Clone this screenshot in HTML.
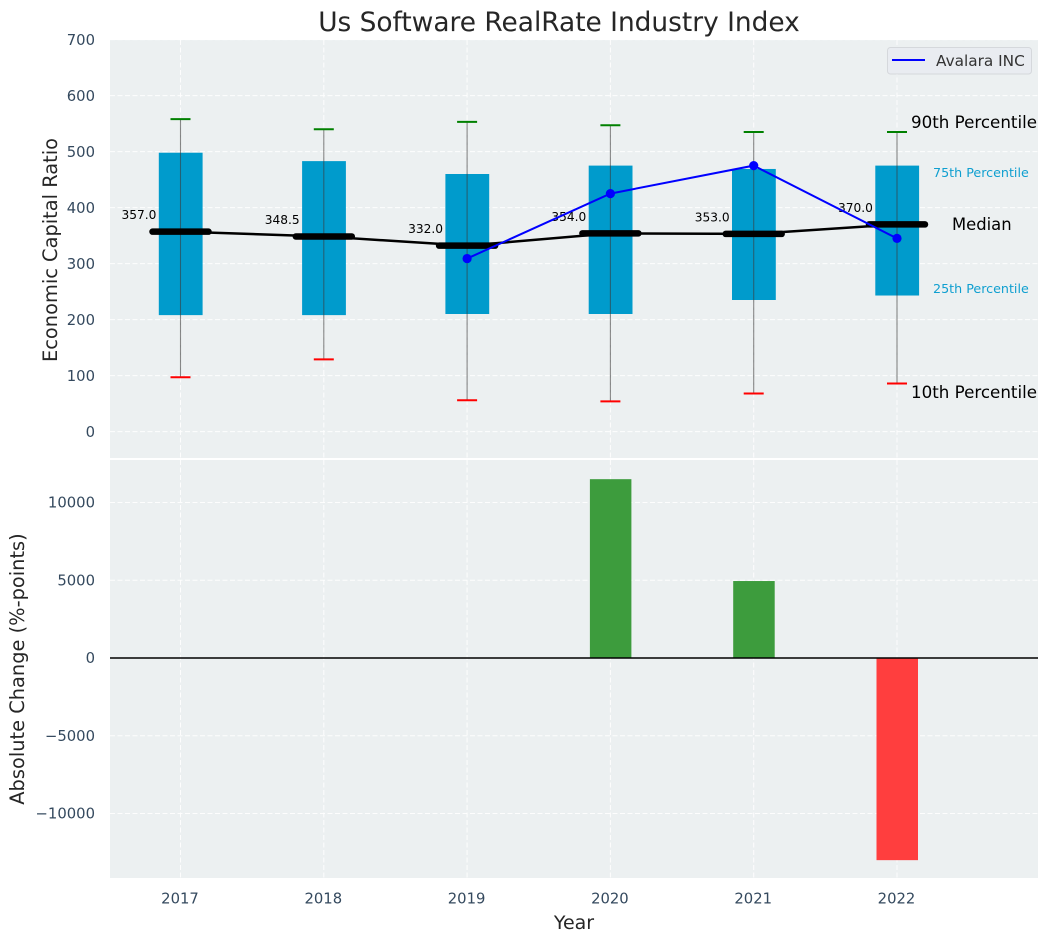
<!DOCTYPE html>
<html lang="en">
<head>
<meta charset="utf-8">
<title>Us Software RealRate Industry Index</title>
<style>
html,body{margin:0;padding:0;background:#fff;}
svg{display:block;font-family:"DejaVu Sans","Liberation Sans",sans-serif;}
</style>
</head>
<body>
<svg id="chart" xmlns="http://www.w3.org/2000/svg" width="1048" height="942" viewBox="0 0 1048 942">
  <rect x="110" y="40" width="928" height="418" fill="#ecf0f1"/>
  <rect x="110" y="460" width="928" height="418" fill="#ecf0f1"/>
  <g id="grid"></g>
  <g id="bars"></g>
  <g id="boxes"></g>
  <g id="series"></g>
  <g id="ticks"></g>
  <text x="559" y="31" font-size="26.4" text-anchor="middle" fill="#262626">Us Software RealRate Industry Index</text>
  <text transform="translate(57 250) rotate(-90)" font-size="19.4" text-anchor="middle" fill="#262626">Economic Capital Ratio</text>
  <text transform="translate(24 669) rotate(-90)" font-size="19.4" text-anchor="middle" fill="#262626">Absolute Change (%-points)</text>
  <text x="574" y="929" font-size="19" text-anchor="middle" fill="#262626">Year</text>
  <text x="911" y="128" font-size="16.7" fill="#000">90th Percentile</text>
  <text x="933" y="177" font-size="12.7" fill="#0f9fd0">75th Percentile</text>
  <text x="952" y="230" font-size="16.4" fill="#000">Median</text>
  <text x="933" y="293" font-size="12.7" fill="#0f9fd0">25th Percentile</text>
  <text x="911" y="398" font-size="16.7" fill="#000">10th Percentile</text>
  <g>
    <rect x="887.5" y="47.5" width="144" height="26.5" rx="3" fill="#e9ecf1" stroke="#d5d8dc"/>
    <line x1="892" y1="60" x2="925" y2="60" stroke="#0000ff" stroke-width="2"/>
    <text x="936" y="66" font-size="15.3" fill="#333">Avalara INC</text>
  </g>
</svg>
<script>
const years = [2017, 2018, 2019, 2020, 2021, 2022];
const p10 = [97, 129, 56, 54, 68, 86];
const p25 = [208, 208, 210, 210, 235, 243];
const medians = [357.0, 348.5, 332.0, 354.0, 353.0, 370.0];
const p75 = [498, 483, 460, 475, 469, 475];
const p90 = [558, 540, 553, 547, 535, 535];
const avalara = [null, null, 309, 425, 475, 345];
const changes = [0, 0, 0, 11500, 4950, -13000];
const topTicks = [0, 100, 200, 300, 400, 500, 600, 700];
const bottomTicks = [-10000, -5000, 0, 5000, 10000];

const NS = 'http://www.w3.org/2000/svg';
function xPos(year) { return 180.5 + (year - 2017) * 143.3; }
function yTop(v) { return 431.6 - v * 0.56; }
function yBottom(v) { return 658 - v * 0.01555; }
function mk(parent, tag, attrs, text) {
  const el = document.createElementNS(NS, tag);
  for (const k in attrs) el.setAttribute(k, attrs[k]);
  if (text !== undefined) el.textContent = text;
  parent.appendChild(el);
  return el;
}
const gGrid = document.getElementById('grid');
const gBars = document.getElementById('bars');
const gBoxes = document.getElementById('boxes');
const gSeries = document.getElementById('series');
const gTicks = document.getElementById('ticks');
const gridStyle = { stroke: '#ffffff', 'stroke-width': 1, 'stroke-dasharray': '5 2.5', opacity: 0.9 };

topTicks.forEach(function (t) {
  const y = yTop(t);
  const line = mk(gGrid, 'line', Object.assign({ x1: 110, x2: 1038, y1: y, y2: y }, gridStyle));
  
  
  const label = mk(gTicks, 'text', { x: 95, y: y + 5.2, 'text-anchor': 'end', 'font-size': 14.8, fill: '#34495e' }, String(t));
  
  
});
bottomTicks.forEach(function (t) {
  const y = yBottom(t);
  const line = mk(gGrid, 'line', Object.assign({ x1: 110, x2: 1038, y1: y, y2: y }, gridStyle));
  
  
  const txt = t < 0 ? '\u2212' + Math.abs(t) : String(t);
  const label = mk(gTicks, 'text', { x: 95, y: y + 5.2, 'text-anchor': 'end', 'font-size': 14.8, fill: '#34495e' }, txt);
  
  
});
years.forEach(function (yr) {
  const x = xPos(yr);
  const l1 = mk(gGrid, 'line', Object.assign({ x1: x, x2: x, y1: 40, y2: 458 }, gridStyle));
  
  
  const l2 = mk(gGrid, 'line', Object.assign({ x1: x, x2: x, y1: 460, y2: 878 }, gridStyle));
  
  
  const label = mk(gTicks, 'text', { x: x - 0.5, y: 903.5, 'text-anchor': 'middle', 'font-size': 14.8, fill: '#34495e' }, String(yr));
  
  
});

changes.forEach(function (c, i) {
  if (!c) return;
  const x = xPos(years[i]);
  const y0 = yBottom(0), y1 = yBottom(c);
  const bar = mk(gBars, 'rect', {
    x: x - 20.5, y: Math.min(y0, y1), width: 41.5, height: Math.abs(y1 - y0),
    fill: c > 0 ? '#3d9c3d' : '#ff3e3e'
  });
  
  
});
const zero = mk(gBars, 'line', { x1: 110, x2: 1038, y1: yBottom(0), y2: yBottom(0), stroke: '#000', 'stroke-width': 1.6 });



years.forEach(function (yr, i) {
  const x = xPos(yr);
  const box = mk(gBoxes, 'rect', {
    x: x - 21.7, y: yTop(p75[i]), width: 43.8, height: yTop(p25[i]) - yTop(p75[i]), fill: '#009bcc'
  });
  
  
  const whisker = mk(gBoxes, 'line', {
    x1: x, x2: x, y1: yTop(p90[i]), y2: yTop(p10[i]), stroke: '#3a3a3a', 'stroke-opacity': 0.6, 'stroke-width': 1.1
  });
  
  
  const capHi = mk(gBoxes, 'line', {
    x1: x - 10, x2: x + 10, y1: yTop(p90[i]), y2: yTop(p90[i]), stroke: '#008000', 'stroke-width': 2
  });
  
  
  const capLo = mk(gBoxes, 'line', {
    x1: x - 10, x2: x + 10, y1: yTop(p10[i]), y2: yTop(p10[i]), stroke: '#ff0000', 'stroke-width': 2
  });
  
  
});

const medianPath = mk(gSeries, 'polyline', {
  points: years.map(function (yr, i) { return xPos(yr) + ',' + yTop(medians[i]); }).join(' '),
  fill: 'none', stroke: '#000', 'stroke-width': 2.5
});



years.forEach(function (yr, i) {
  const x = xPos(yr), y = yTop(medians[i]);
  const seg = mk(gSeries, 'line', {
    x1: x - 28, x2: x + 28, y1: y, y2: y, stroke: '#000', 'stroke-width': 6.5, 'stroke-linecap': 'round'
  });
  
  
  const label = mk(gSeries, 'text', { x: x - 59, y: y - 12.5, 'font-size': 12.2, fill: '#000' }, medians[i].toFixed(1));
  
  
});

const avalaraPts = [];
avalara.forEach(function (v, i) {
  if (v !== null) avalaraPts.push(xPos(years[i]) + ',' + yTop(v));
});
const avalaraLine = mk(gSeries, 'polyline', { points: avalaraPts.join(' '), fill: 'none', stroke: '#0000ff', 'stroke-width': 2 });


avalara.forEach(function (v, i) {
  if (v === null) return;
  const dot = mk(gSeries, 'circle', { cx: xPos(years[i]), cy: yTop(v), r: 4.6, fill: '#0000ff' });
  
  
});
</script>
</body>
</html>
